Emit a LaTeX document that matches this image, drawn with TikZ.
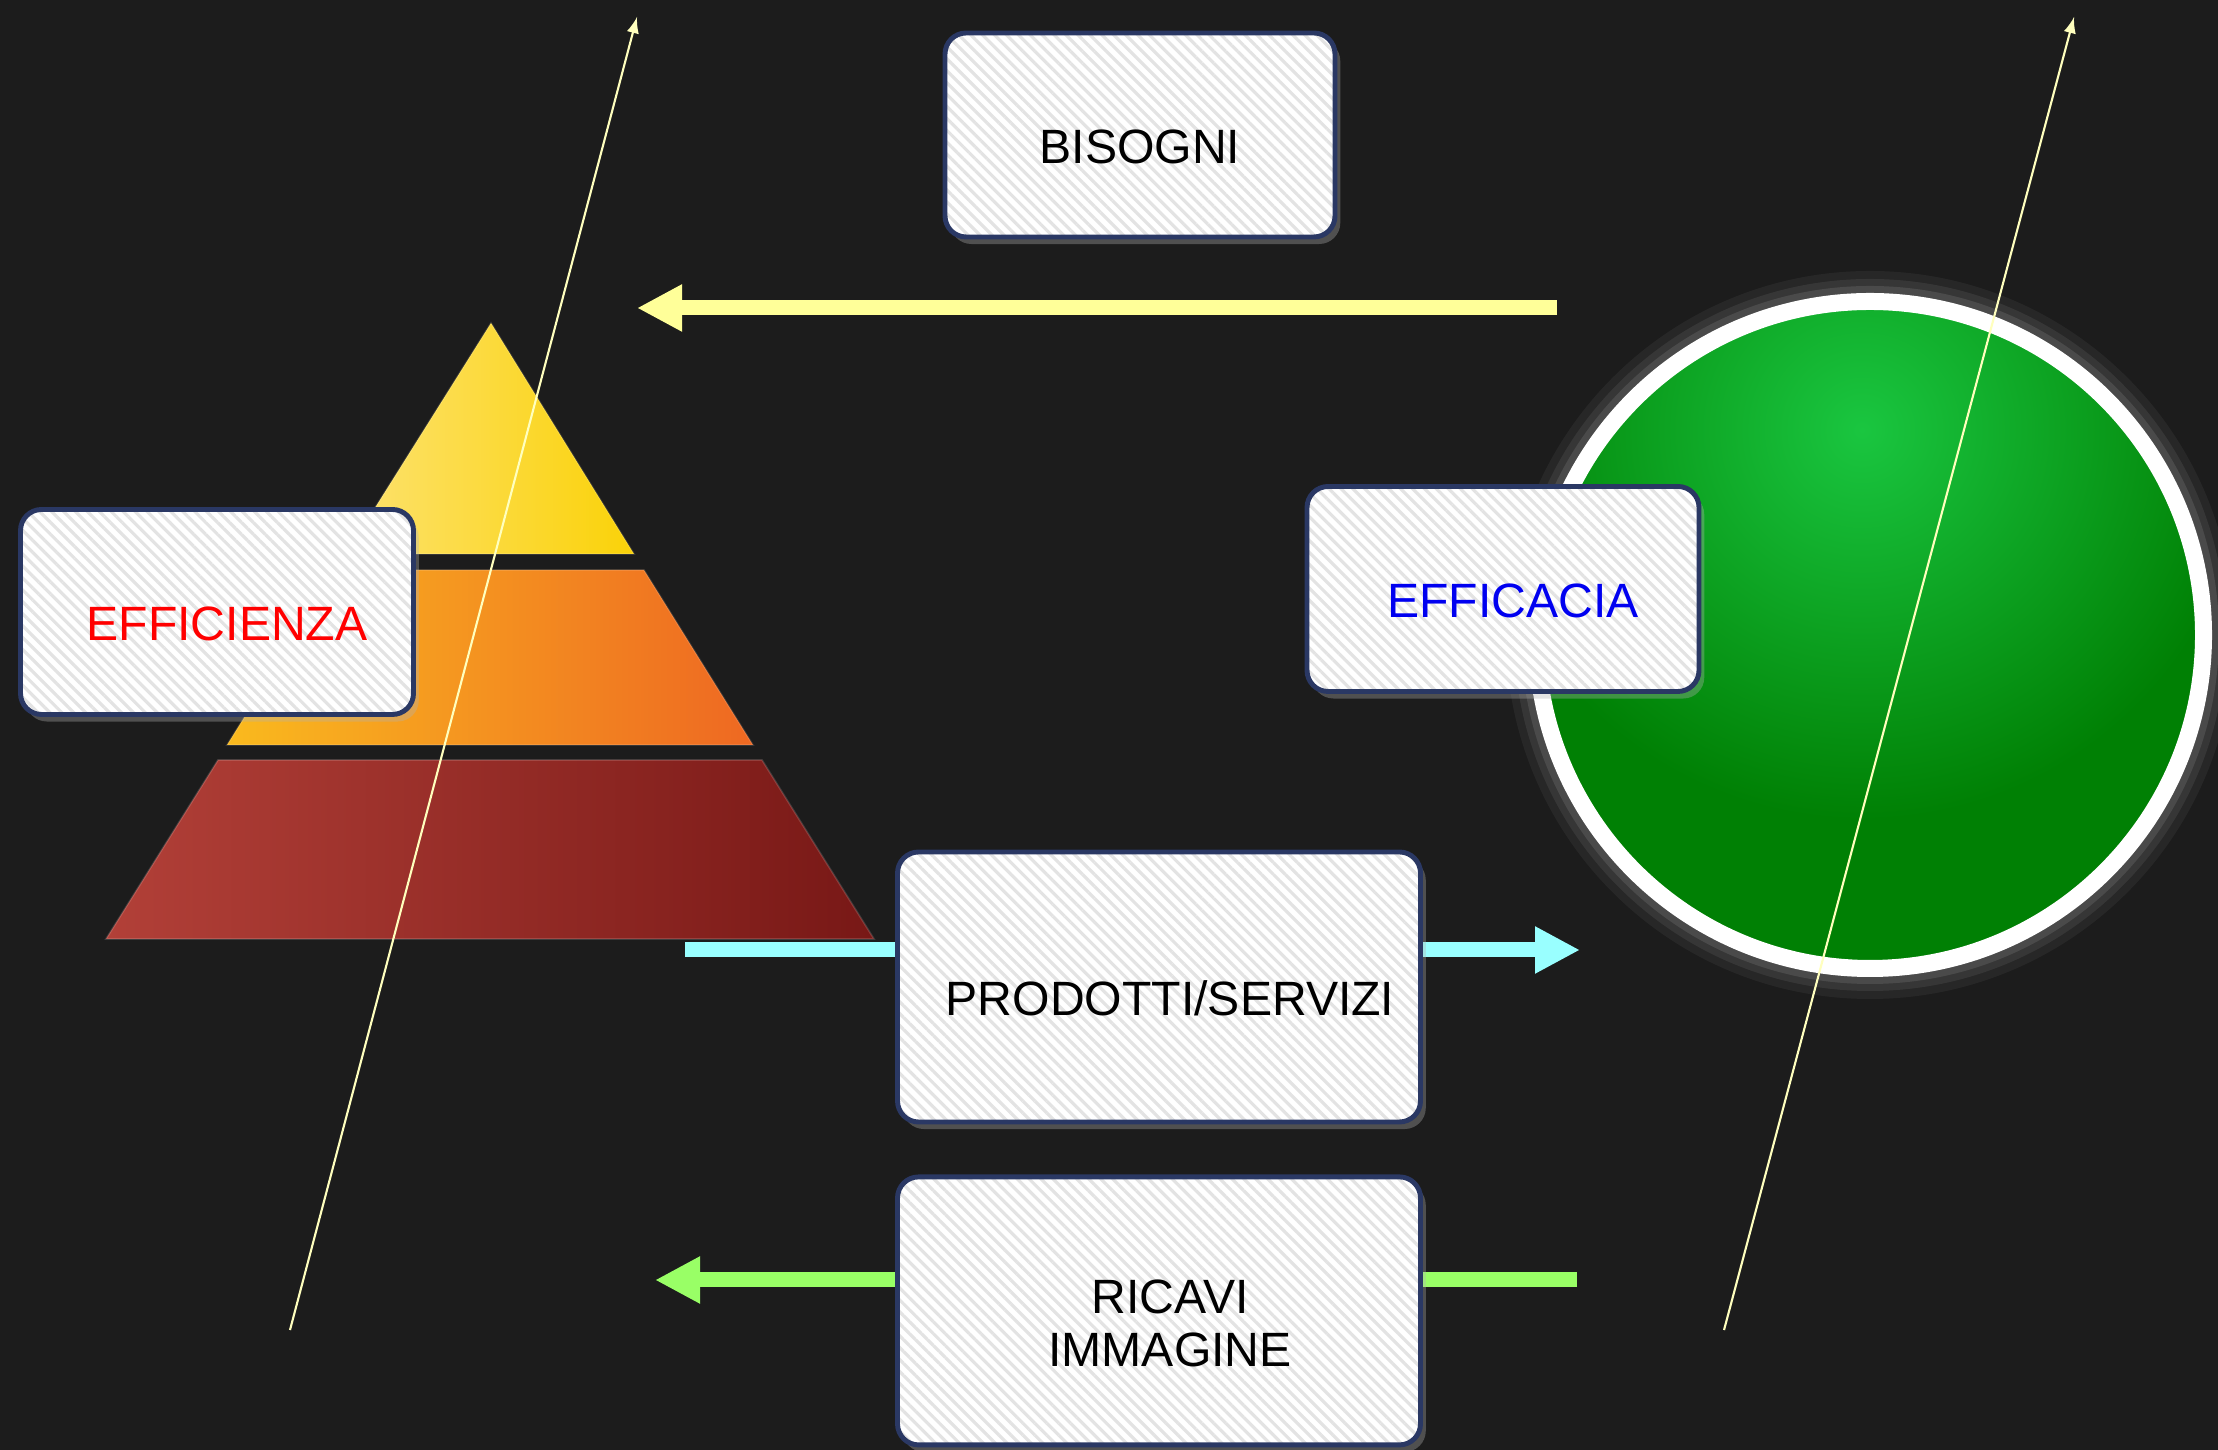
\documentclass[tikz,border=0pt]{standalone}
\usepackage{fontspec}
\setmainfont{Liberation Sans}
\usepackage{tikz}
\usetikzlibrary{positioning}
\usetikzlibrary{arrows.meta}
\usetikzlibrary{patterns.meta}
\usetikzlibrary{shadows}

\definecolor{sfondo}{RGB}{28,28,28}
\definecolor{bordo}{RGB}{42,56,100}
\definecolor{giallo}{RGB}{255,255,153}
\definecolor{ciano}{RGB}{153,255,255}
\definecolor{verde}{RGB}{153,255,102}
\definecolor{filo}{RGB}{255,255,190}
\definecolor{blu}{RGB}{0,0,240}
\definecolor{verdeA}{RGB}{26,198,64}
\definecolor{verdeD}{RGB}{0,128,4}

\tikzset{
  riquadro/.style={drop shadow={shadow xshift=1.5pt,shadow yshift=-2pt,fill=gray!60,opacity=0.35},
    preaction={fill=white}, pattern={Lines[angle=-45,distance=2.4pt,line width=0.9pt]},
    pattern color=black!11, draw=bordo, line width=1.4pt, rounded corners=6pt,
    font=\fontsize{13.7pt}{15pt}\selectfont, align=center, inner sep=0pt, text height=0.57cm},
  freccia/.style={line width=0.15cm, -{Triangle[length=0.45cm,width=0.44cm]}}
}

\begin{document}
\begin{tikzpicture}
          \useasboundingbox (0,0) rectangle (22.18,14.5);
          \fill[sfondo] (0,0) rectangle (22.18,14.5);

          \shade[left color={rgb,255:red,253;green,226;blue,112}, right color={rgb,255:red,250;green,210;blue,8}, draw=white, draw opacity=0.12, line width=0.5pt]
            (4.91,11.27) -- (3.46,8.96) -- (6.34,8.96) -- cycle;
          \shade[left color={rgb,255:red,250;green,186;blue,30}, middle color={rgb,255:red,247;green,150;blue,30}, right color={rgb,255:red,238;green,104;blue,34}, draw=white, draw opacity=0.12, line width=0.5pt]
            (3.36,8.80) -- (6.44,8.80) -- (7.53,7.05) -- (2.27,7.05) -- cycle;
          \shade[left color={rgb,255:red,178;green,64;blue,56}, middle color={rgb,255:red,140;green,36;blue,32}, right color={rgb,255:red,120;green,24;blue,22}, draw=white, draw opacity=0.15, line width=0.5pt]
            (2.18,6.90) -- (7.62,6.90) -- (8.74,5.11) -- (1.06,5.11) -- cycle;

          \coordinate (centro) at (18.70,8.15);
          \fill[white, opacity=0.05] (centro) circle (3.64);
          \fill[white, opacity=0.07] (centro) circle (3.56);
          \fill[white, opacity=0.10] (centro) circle (3.49);
          \fill[verdeD] (centro) circle (3.335);
          \begin{scope}
            \clip (centro) circle (3.335);
            \shade[inner color=verdeA, outer color=verdeD] (18.62,10.20) circle (3.9);
          \end{scope}
          \draw[white, line width=0.17cm] (centro) circle (3.335);

          \coordinate (gialloA) at (15.57,11.42);
          \coordinate (gialloB) at (6.37,11.42);
          \coordinate (cianoA) at (6.85,5.00);
          \coordinate (cianoB) at (15.80,5.00);
          \coordinate (verdeA) at (15.77,1.70);
          \coordinate (verdeB) at (6.55,1.70);
          \draw[freccia, giallo] (gialloA) -- (gialloB);
          \draw[freccia, ciano] (cianoA) -- (cianoB);
          \draw[freccia, verde] (verdeA) -- (verdeB);

          \node[riquadro, minimum width=3.9cm, minimum height=2.04cm] (bisogni) at (11.40,13.15) {BISOGNI};
          \node[riquadro, minimum width=3.93cm, minimum height=2.05cm, text=red] (efficienza) at (2.17,8.38) {\hspace*{0.2cm}EFFICIENZA};
          \node[riquadro, minimum width=3.92cm, minimum height=2.05cm, text=blu] (efficacia) at (15.03,8.61) {\hspace*{0.2cm}EFFICACIA};
          \node[riquadro, minimum width=5.23cm, minimum height=2.70cm] (prodotti) at (11.59,4.63) {\hspace*{0.22cm}PRODOTTI/SERVIZI};
          \node[riquadro, minimum width=5.23cm, minimum height=2.68cm, text height=1.12cm, below=0.5cm of prodotti] (ricavi) {\hspace*{0.22cm}RICAVI\\\hspace*{0.22cm}IMMAGINE};

          \coordinate (filoA) at (2.90,1.20);
          \coordinate (filoB) at (6.37,14.33);
          \coordinate (filoC) at (17.24,1.20);
          \coordinate (filoD) at (20.74,14.33);
          \draw[filo, line width=0.6pt, -latex] (filoA) -- (filoB);
          \draw[filo, line width=0.6pt, -latex] (filoC) -- (filoD);
        \end{tikzpicture}
\end{document}
